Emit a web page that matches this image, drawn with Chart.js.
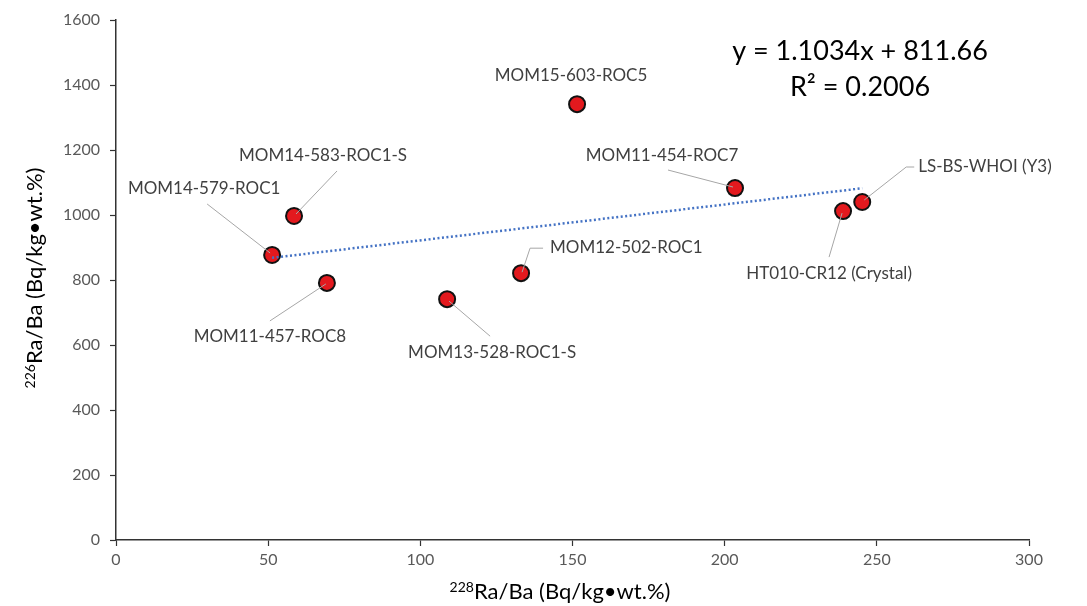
<!DOCTYPE html>
<html>
<head>
<meta charset="utf-8">
<script src="https://cdn.jsdelivr.net/npm/chart.js@4/dist/chart.umd.min.js"></script>
<style>
  html, body { margin: 0; padding: 0; background: #fff; }
  #wrap { width: 1087px; height: 606px; position: relative; }
</style>
</head>
<body>
<div id="wrap"><canvas id="chart"></canvas></div>
<script>
// sample values
const sampleNames = [
  "MOM14-579-ROC1",
  "MOM14-583-ROC1-S",
  "MOM11-457-ROC8",
  "MOM13-528-ROC1-S",
  "MOM12-502-ROC1",
  "MOM15-603-ROC5",
  "MOM11-454-ROC7",
  "HT010-CR12 (Crystal)",
  "LS-BS-WHOI (Y3)",
];
const ra228 = [51.3, 58.5, 69.3, 108.8, 133.1, 151.5, 203.4, 238.9, 245.2];
const ra226 = [877, 997, 791, 741, 821, 1341, 1083, 1012, 1040];

// linear fit printed on the chart
const fitSlope = 1.1034;
const fitIntercept = 811.66;
const fitLines = ["y = 1.1034x + 811.66", "R² = 0.2006"];

const xTicks = { min: 0, max: 300, step: 50 };
const yTicks = { min: 0, max: 1600, step: 200 };

const FONT = "Lato, 'Open Sans', sans-serif";

// label placement (pixel offsets from each marker), leader line path
const labelLayout = [
  { dx: -68, dy: -66, align: "center", lead: [[-2, -2], [-65, -51]] },
  { dx: 29, dy: -60, align: "center", lead: [[2, -2], [43, -45]] },
  { dx: -57, dy: 54, align: "center", lead: [[-1, 1], [-57, 38]] },
  { dx: 45, dy: 53, align: "center", lead: [[2, 2], [43, 37]] },
  { dx: 29, dy: -26, align: "left", lead: [[1, -1], [9, -25], [22, -25]] },
  { dx: -6, dy: -29, align: "center", lead: null },
  { dx: -73, dy: -33, align: "center", lead: [[-2, -1], [-67, -18]] },
  { dx: -14, dy: 62, align: "center", lead: [[-1, 2], [-14, 46]] },
  { dx: 56, dy: -35, align: "left", lead: [[2, -2], [44, -35], [52, -35]] },
];

const points = ra228.map((x, i) => ({ x, y: ra226[i] }));
const fitX = [Math.min(...ra228), Math.max(...ra228)];
const fitPoints = fitX.map((x) => ({ x, y: fitSlope * x + fitIntercept }));

const pointLabels = {
  id: "pointLabels",
  afterDatasetsDraw(chart) {
    const { ctx } = chart;
    const meta = chart.getDatasetMeta(1);
    ctx.save();
    ctx.font = `17px ${FONT}`;
    ctx.fillStyle = "#404040";
    ctx.strokeStyle = "#a6a6a6";
    ctx.lineWidth = 1;
    meta.data.forEach((el, i) => {
      const lay = labelLayout[i];
      const px = el.x, py = el.y;
      if (lay.lead) {
        ctx.beginPath();
        lay.lead.forEach(([lx, ly], k) => {
          if (k === 0) ctx.moveTo(px + lx, py + ly);
          else ctx.lineTo(px + lx, py + ly);
        });
        ctx.stroke();
      }
      ctx.textAlign = lay.align;
      ctx.textBaseline = "middle";
      ctx.fillText(sampleNames[i], px + lay.dx, py + lay.dy);
    });
    ctx.restore();
  },
};

// equation and axis titles with superscripts
const extraText = {
  id: "extraText",
  afterDraw(chart) {
    const { ctx } = chart;
    ctx.save();
    ctx.fillStyle = "#000";
    ctx.font = `27px ${FONT}`;
    ctx.textAlign = "center";
    ctx.textBaseline = "middle";
    ctx.fillText(fitLines[0], 860, 51);
    ctx.fillText(fitLines[1], 860, 87);

    const drawTitle = (sup, main, x, y, rot) => {
      ctx.save();
      ctx.translate(x, y);
      ctx.rotate(rot);
      ctx.font = `14px ${FONT}`;
      const wSup = ctx.measureText(sup).width;
      ctx.font = `22px ${FONT}`;
      const wMain = ctx.measureText(main).width;
      const start = -(wSup + wMain) / 2;
      ctx.textAlign = "left";
      ctx.textBaseline = "alphabetic";
      ctx.font = `14px ${FONT}`;
      ctx.fillText(sup, start, 0);
      ctx.font = `22px ${FONT}`;
      ctx.fillText(main, start + wSup, 7);
      ctx.restore();
    };
    drawTitle("228", "Ra/Ba (Bq/kg•wt.%)", 560, 592, 0);
    drawTitle("226", "Ra/Ba (Bq/kg•wt.%)", 35, 278, -Math.PI / 2);
    ctx.restore();
  },
};

const tickStyle = {
  color: "#595959",
  font: { family: FONT, size: 16 },
  callback: (v) => String(v),
};

new Chart(document.getElementById("chart"), {
  type: "scatter",
  data: {
    datasets: [
      {
        type: "line",
        label: "Linear fit",
        data: fitPoints,
        borderColor: "#4472c4",
        borderWidth: 2.5,
        borderDash: [2, 2.5],
        pointRadius: 0,
        fill: false,
      },
      {
        label: "Samples",
        data: points,
        backgroundColor: "#e3191e",
        borderColor: "#111",
        borderWidth: 2,
        pointRadius: 8,
        pointHoverRadius: 8,
      },
    ],
  },
  options: {
    responsive: true,
    maintainAspectRatio: false,
    animation: false,
    layout: { padding: { top: 20, right: 58, left: 0, bottom: 0 } },
    plugins: {
      legend: { display: false },
      tooltip: { enabled: false },
    },
    scales: {
      x: {
        type: "linear",
        min: xTicks.min,
        max: xTicks.max,
        ticks: { stepSize: xTicks.step, padding: 4, ...tickStyle },
        grid: { drawOnChartArea: false, tickLength: 6, color: "#333", tickWidth: 1.2 },
        border: { color: "#333", width: 1.5 },
        afterFit: (s) => { s.height = 66; },
      },
      y: {
        type: "linear",
        min: yTicks.min,
        max: yTicks.max,
        ticks: { stepSize: yTicks.step, padding: 10, ...tickStyle },
        grid: { drawOnChartArea: false, tickLength: 6, color: "#333", tickWidth: 1.2 },
        border: { color: "#333", width: 1.5 },
        afterFit: (s) => { s.width = 116; },
      },
    },
  },
  plugins: [pointLabels, extraText],
});
</script>
</body>
</html>
